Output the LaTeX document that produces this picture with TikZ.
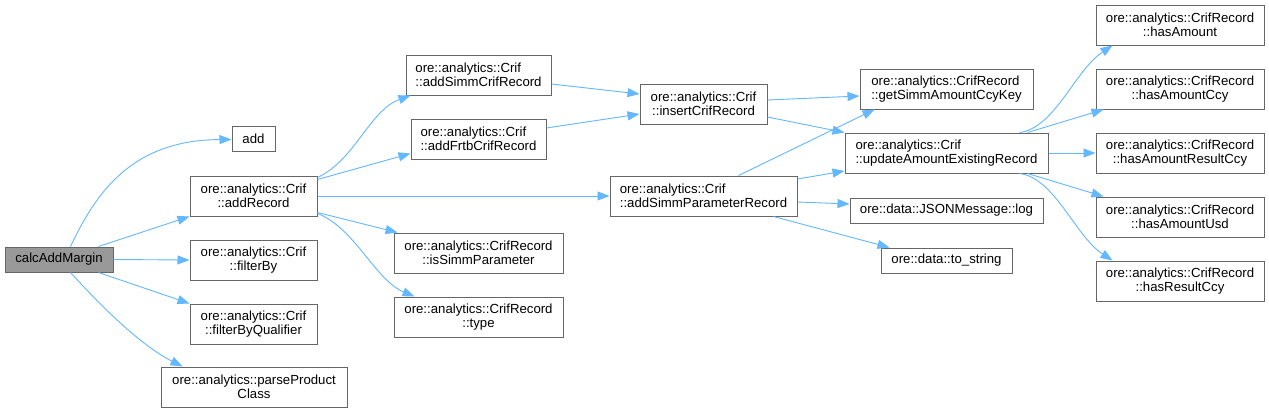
\documentclass[tikz,border=0pt]{standalone}
\usepackage{fontspec}
\setmainfont{Liberation Sans}
\usetikzlibrary{arrows.meta}
\definecolor{edgeblue}{HTML}{63B8FF}
\definecolor{boxline}{HTML}{666666}
\definecolor{camfill}{HTML}{999999}
\tikzset{
  fnode/.style={draw=boxline, fill=white, line width=1pt, inner sep=1pt,
    font=\fontsize{13.2}{14.5}\selectfont, text=black, align=center},
  edge/.style={draw=edgeblue, line width=0.9pt, -{Triangle[length=12pt,width=9pt]}},
}
\begin{document}
\begin{tikzpicture}[x=1pt,y=-1pt]
\fill[white] (0,0) rectangle (1269,413);
\useasboundingbox (0,0) rectangle (1269,413);
% column 1
\node[fnode, fill=camfill, minimum width=108pt, minimum height=25pt] (cam) at (59,259.5) {calcAddMargin};
% column 2
\node[fnode, minimum width=43pt, minimum height=25pt] (add) at (253.5,138.5) {add};
\node[fnode, minimum width=127pt, minimum height=40pt] (ar) at (253.5,196) {ore::analytics::Crif\\::addRecord};
\node[fnode, minimum width=127pt, minimum height=40pt] (fb) at (253.5,260) {ore::analytics::Crif\\::filterBy};
\node[fnode, minimum width=127pt, minimum height=40pt] (fbq) at (253.5,324) {ore::analytics::Crif\\::filterByQualifier};
\node[fnode, minimum width=186pt, minimum height=40pt] (ppc) at (254,387) {ore::analytics::parseProduct\\Class};
% column 3
\node[fnode, align=left, minimum width=145pt, minimum height=40pt] (ascr) at (478.5,75) {ore::analytics::Crif\\::addSimmCrifRecord};
\node[fnode, align=left, minimum width=135pt, minimum height=40pt] (afcr) at (478.5,139) {ore::analytics::Crif\\::addFrtbCrifRecord};
\node[fnode, minimum width=169pt, minimum height=40pt] (isp) at (478.5,253) {ore::analytics::CrifRecord\\::isSimmParameter};
\node[fnode, minimum width=169pt, minimum height=40pt] (type) at (478.5,317) {ore::analytics::CrifRecord\\::type};
% column 4
\node[fnode, minimum width=127pt, minimum height=40pt] (icr) at (703.5,104) {ore::analytics::Crif\\::insertCrifRecord};
\node[fnode, align=left, minimum width=187pt, minimum height=40pt] (asp) at (703.5,196) {ore::analytics::Crif\\::addSimmParameterRecord};
% column 5
\node[fnode, align=left, minimum width=173pt, minimum height=40pt] (gsack) at (946.5,89) {ore::analytics::CrifRecord\\::getSimmAmountCcyKey};
\node[fnode, align=left, minimum width=203pt, minimum height=40pt] (uaer) at (946.5,153) {ore::analytics::Crif\\::updateAmountExistingRecord};
\node[fnode, minimum width=193pt, minimum height=25pt] (log) at (946.5,210.5) {ore::data::JSONMessage::log};
\node[fnode, minimum width=131pt, minimum height=25pt] (ts) at (946.5,260.5) {ore::data::to\_string};
% column 6
\node[fnode, minimum width=168pt, minimum height=40pt] (ha) at (1180,25) {ore::analytics::CrifRecord\\::hasAmount};
\node[fnode, minimum width=168pt, minimum height=40pt] (hac) at (1180,89) {ore::analytics::CrifRecord\\::hasAmountCcy};
\node[fnode, minimum width=168pt, minimum height=40pt] (harc) at (1180,153) {ore::analytics::CrifRecord\\::hasAmountResultCcy};
\node[fnode, minimum width=168pt, minimum height=40pt] (hau) at (1180,217) {ore::analytics::CrifRecord\\::hasAmountUsd};
\node[fnode, minimum width=168pt, minimum height=40pt] (hrc) at (1180,281) {ore::analytics::CrifRecord\\::hasResultCcy};
% edges from calcAddMargin
\draw[edge] ([xshift=66pt]cam.north west) .. controls (95,195) and (130,140) .. ([yshift=-1pt]add.west);
\draw[edge] ([xshift=94pt]cam.north west) -- (ar.south west);
\draw[edge] (cam.east) -- (fb.west);
\draw[edge] ([xshift=94pt]cam.south west) -- (fbq.north west);
\draw[edge] ([xshift=66pt]cam.south west) .. controls (100,305) and (140,345) .. ([xshift=22pt]ppc.north west);
% edges from addRecord
\draw[edge] ([yshift=-2pt]ar.north east) .. controls (355,160) and (370,110) .. ([xshift=5pt]ascr.south west);
\draw[edge] ([yshift=-4pt]ar.north east) -- ([yshift=6pt]afcr.south west);
\draw[edge] (ar.east) -- (asp.west);
\draw[edge] ([yshift=4pt]ar.south east) -- ([xshift=4pt]isp.north west);
\draw[edge] ([yshift=3pt]ar.south east) .. controls (355,228) and (375,280) .. ([xshift=21pt]type.north west);
% column 3 -> 4
\draw[edge] ([yshift=-9pt]ascr.east) -- ([yshift=10pt]icr.west);
\draw[edge] ([yshift=11pt]afcr.east) -- ([yshift=-10pt]icr.west);
% column 4 -> 5
\draw[edge] ([yshift=4pt]icr.east) -- ([yshift=-7pt]gsack.west);
\draw[edge] ([yshift=-13pt]icr.east) -- (uaer.north west);
\draw[edge] ([xshift=129pt]asp.north west) -- ([xshift=15pt]gsack.south west);
\draw[edge] ([yshift=17pt]asp.east) -- ([yshift=-18pt]uaer.west);
\draw[edge] ([yshift=-6pt]asp.east) -- ([yshift=6.5pt]log.west);
\draw[edge] ([xshift=164pt]asp.south west) -- ([xshift=9pt]ts.north west);
% column 5 -> 6
\draw[edge] ([xshift=175pt]uaer.north west) .. controls (1055,128) and (1075,70) .. ([xshift=17pt]ha.south west);
\draw[edge] ([xshift=183pt]uaer.north west) -- ([xshift=8pt]hac.south west);
\draw[edge] (uaer.east) -- (harc.west);
\draw[edge] ([xshift=183pt]uaer.south west) -- ([xshift=8pt]hau.north west);
\draw[edge] ([xshift=175pt]uaer.south west) .. controls (1055,178) and (1075,236) .. ([xshift=17pt]hrc.north west);
\end{tikzpicture}
\end{document}
